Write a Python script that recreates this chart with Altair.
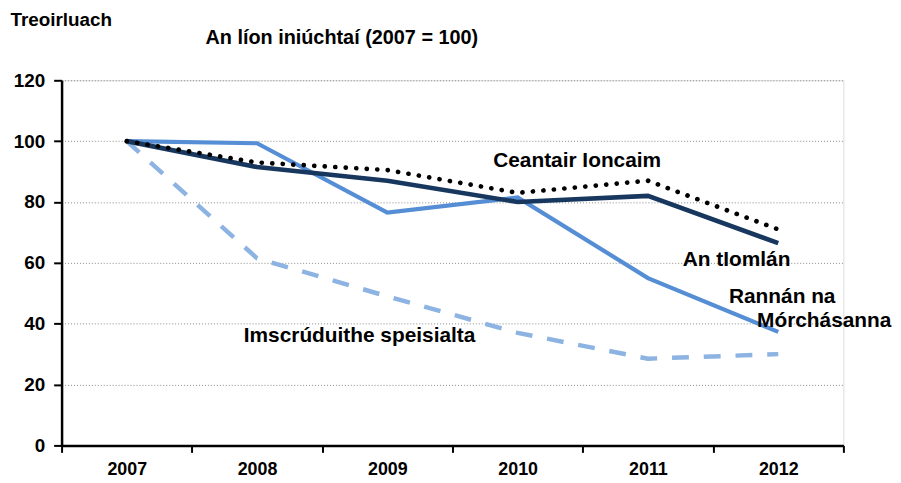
import altair as alt
import pandas as pd

years = ["2007", "2008", "2009", "2010", "2011", "2012"]
ceantair = [100, 93, 90.5, 83, 87, 71]
iomlan = [100, 91.5, 87, 80, 82, 66.5]
rannan = [100, 99.3, 76.5, 81.5, 55, 37.3]
imscrud = [100, 61.5, 49, 37, 28.5, 30]

series_names = ["Imscrúduithe speisialta", "Rannán na Mórchásanna", "An tIomlán", "Ceantair Ioncaim"]
series_values = [imscrud, rannan, iomlan, ceantair]

# label anchors (category, value)
label_text = ["Ceantair Ioncaim", "An tIomlán", "Rannán na", "Mórchásanna", "Imscrúduithe speisialta"]
label_year = ["2010", "2012", "2012", "2012", "2009"]
label_value = [93.6, 61, 48.6, 40.8, 35.9]

chart_title = "An líon iniúchtaí (2007 = 100)"

rows = []
for name, vals in zip(series_names, series_values):
    for y, v in zip(years, vals):
        rows.append({"year": y, "series": name, "value": v})
df = pd.DataFrame(rows)

FONT = "Liberation Sans"
xscale = alt.Scale(type="band", domain=years, paddingInner=0, paddingOuter=0)

x_enc = alt.X(
    "year:O",
    bandPosition=0.5,
    scale=xscale,
    axis=alt.Axis(
        title=None, labelAngle=0, tickBand="extent", grid=False,
        domainColor="black", domainWidth=2.5, tickColor="black", tickWidth=2, tickSize=7,
        labelFont=FONT, labelFontSize=18, labelFontWeight="bold",
        labelColor="black", labelPadding=8,
    ),
)
y_enc = alt.Y(
    "value:Q",
    scale=alt.Scale(domain=[0, 120], nice=False, zero=True),
    axis=alt.Axis(
        values=[0, 20, 40, 60, 80, 100, 120], title="Treoirluach",
        titleAngle=0, titleAlign="left", titleBaseline="middle", titleX=-52, titleY=-61,
        titleFont=FONT, titleFontSize=19, titleFontWeight="bold", titleColor="black",
        grid=True, gridColor="#8a8a8a", gridDash=[1, 2], gridWidth=1,
        domainColor="black", domainWidth=2.5, tickColor="black", tickWidth=2, tickSize=8,
        labelFont=FONT, labelFontSize=19, labelFontWeight="bold", labelColor="black",
        labelPadding=9,
    ),
)

base = alt.Chart(df).encode(x=x_enc, y=y_enc)

dashed = base.transform_filter(alt.datum.series == "Imscrúduithe speisialta").mark_line(
    color="#8DB3E2", strokeWidth=4.5, strokeDash=[17, 15]
)
medium = base.transform_filter(alt.datum.series == "Rannán na Mórchásanna").mark_line(
    color="#558ED5", strokeWidth=4.2
)
navy = base.transform_filter(alt.datum.series == "An tIomlán").mark_line(
    color="#17375E", strokeWidth=4.7
)
dotted = base.transform_filter(alt.datum.series == "Ceantair Ioncaim").mark_line(
    color="black", strokeWidth=4.7, strokeDash=[0.1, 10.5], strokeCap="round"
)

label_df = pd.DataFrame({"text": label_text, "year": label_year, "value": label_value})
label_dx = [60, -42, 4, 114, -28]
label_align = ["center", "center", "center", "right", "center"]

text_layers = []
for t, dx, al in zip(label_text, label_dx, label_align):
    text_layers.append(
        alt.Chart(label_df).transform_filter(alt.datum.text == t).mark_text(
            font=FONT, fontSize=21, fontWeight="bold", color="black",
            dx=dx, align=al, baseline="middle",
        ).encode(
            x=alt.X("year:O", bandPosition=0.5, scale=xscale),
            y=alt.Y("value:Q"),
            text="text:N",
        )
    )

title_layer = alt.Chart(pd.DataFrame({"t": [chart_title]})).mark_text(
    font=FONT, fontSize=20, fontWeight="bold", color="black", align="left", baseline="alphabetic"
).encode(x=alt.value(145), y=alt.value(-37), text="t:N")

chart = alt.layer(dashed, medium, navy, dotted, *text_layers, title_layer).properties(
    width=788,
    height=368,
    autosize=alt.AutoSizeParams(type="none"),
    padding={"left": 54, "top": 71, "right": 50, "bottom": 34},
).configure_view(stroke=None).configure(background="white")

chart.save("out.html", embed_options={"renderer": "svg", "actions": False})
